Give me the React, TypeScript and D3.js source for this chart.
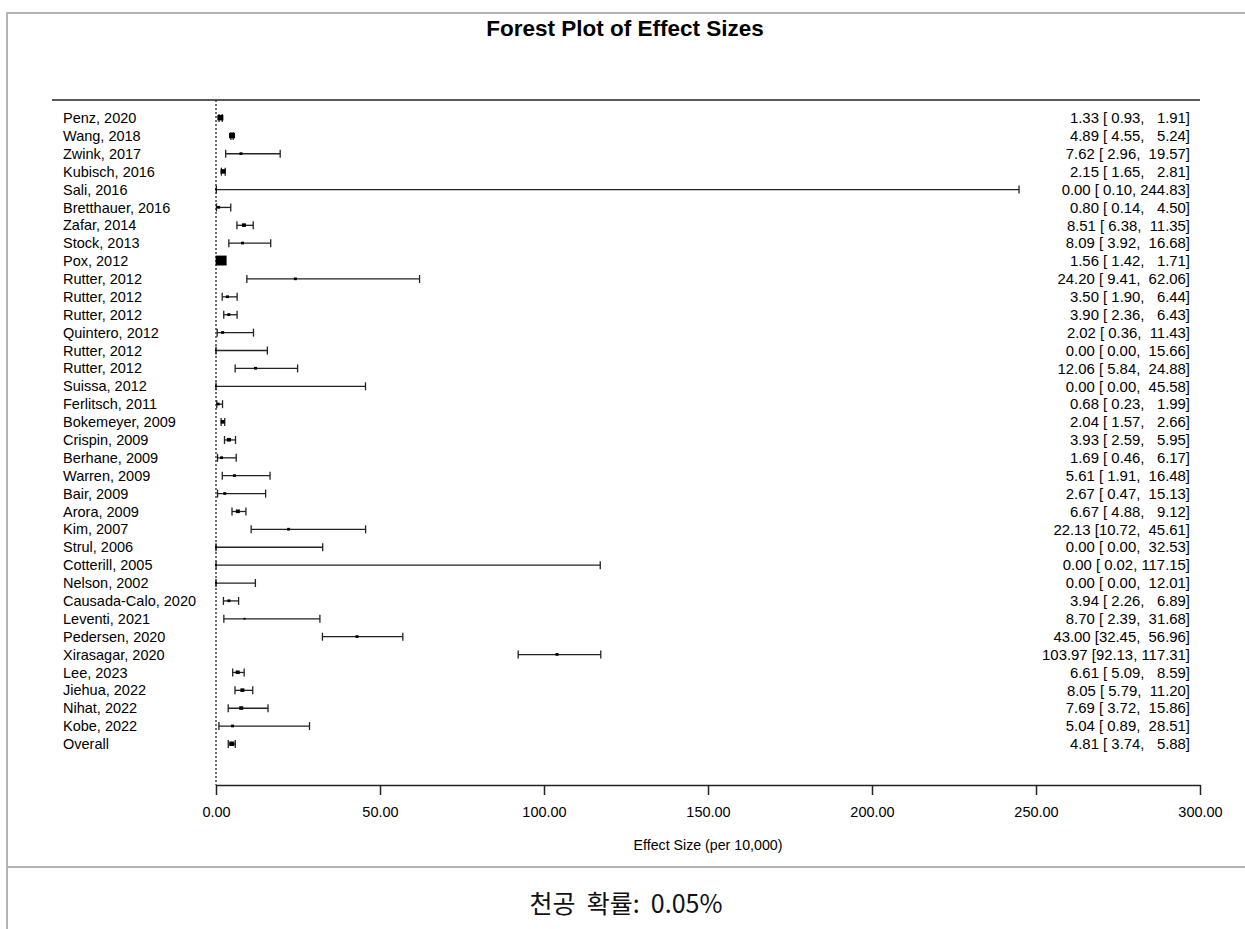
import { useEffect, useRef } from 'react';
import * as d3 from 'd3';

// study data
const studies = [
	'Penz, 2020', 'Wang, 2018', 'Zwink, 2017', 'Kubisch, 2016', 'Sali, 2016', 'Bretthauer, 2016',
	'Zafar, 2014', 'Stock, 2013', 'Pox, 2012', 'Rutter, 2012', 'Rutter, 2012', 'Rutter, 2012',
	'Quintero, 2012', 'Rutter, 2012', 'Rutter, 2012', 'Suissa, 2012', 'Ferlitsch, 2011', 'Bokemeyer, 2009',
	'Crispin, 2009', 'Berhane, 2009', 'Warren, 2009', 'Bair, 2009', 'Arora, 2009', 'Kim, 2007',
	'Strul, 2006', 'Cotterill, 2005', 'Nelson, 2002', 'Causada-Calo, 2020', 'Leventi, 2021', 'Pedersen, 2020',
	'Xirasagar, 2020', 'Lee, 2023', 'Jiehua, 2022', 'Nihat, 2022', 'Kobe, 2022', 'Overall'
];
const estimates = [
	1.33, 4.89, 7.62, 2.15, 0.0, 0.8, 8.51, 8.09, 1.56, 24.2, 3.5, 3.9, 2.02, 0.0, 12.06, 0.0, 0.68, 2.04,
	3.93, 1.69, 5.61, 2.67, 6.67, 22.13, 0.0, 0.0, 0.0, 3.94, 8.7, 43.0, 103.97, 6.61, 8.05, 7.69, 5.04, 4.81
];
const lowers = [
	0.93, 4.55, 2.96, 1.65, 0.1, 0.14, 6.38, 3.92, 1.42, 9.41, 1.9, 2.36, 0.36, 0.0, 5.84, 0.0, 0.23, 1.57,
	2.59, 0.46, 1.91, 0.47, 4.88, 10.72, 0.0, 0.02, 0.0, 2.26, 2.39, 32.45, 92.13, 5.09, 5.79, 3.72, 0.89, 3.74
];
const uppers = [
	1.91, 5.24, 19.57, 2.81, 244.83, 4.5, 11.35, 16.68, 1.71, 62.06, 6.44, 6.43, 11.43, 15.66, 24.88, 45.58, 1.99, 2.66,
	5.95, 6.17, 16.48, 15.13, 9.12, 45.61, 32.53, 117.15, 12.01, 6.89, 31.68, 56.96, 117.31, 8.59, 11.2, 15.86, 28.51, 5.88
];
// relative weight of each study (marker size in the plot)
const weights = [
	6, 6, 3, 5, 2, 3, 4, 3, 11, 3, 3, 3, 3, 2, 3, 2, 3, 4,
	4, 3, 3, 3, 4, 3, 2, 2, 2, 3, 2, 3, 3, 4, 4, 4, 3, 5
];
const xTicks = [0, 50, 100, 150, 200, 250, 300];

const title = 'Forest Plot of Effect Sizes';
const xTitle = 'Effect Size (per 10,000)';
const caption = '천공 확률: 0.05%';

export default function App() {
	const svgRef = useRef<SVGSVGElement | null>(null);

	useEffect(() => {
		const svg = d3.select(svgRef.current);
		svg.selectAll('*').remove();

		const width = 1245;
		const height = 929;
		const font = 'Arial, "Liberation Sans", sans-serif';
		const dark = '#222';

		// outer frame (table borders)
		const frame = svg.append('g').attr('stroke', '#b3b3b3').attr('stroke-width', 2);
		frame.append('line').attr('x1', 7).attr('x2', width).attr('y1', 13).attr('y2', 13);
		frame.append('line').attr('x1', 7).attr('x2', 7).attr('y1', 12).attr('y2', height);
		frame.append('line').attr('x1', 7).attr('x2', width).attr('y1', 867).attr('y2', 867);

		const x = d3.scaleLinear().domain([0, 300]).range([216, 1200]);
		const y = d3.scalePoint<number>().domain(d3.range(studies.length)).range([118, 744]);

		const top = 100;
		const axisY = 785;

		svg.append('text')
			.attr('x', 625).attr('y', 36)
			.attr('text-anchor', 'middle')
			.attr('font-family', font).attr('font-weight', 'bold').attr('font-size', 22.5)
			.attr('fill', '#000')
			.text(title);

		// top rule
		svg.append('line')
			.attr('x1', 52).attr('x2', 1200).attr('y1', top).attr('y2', top)
			.attr('stroke', dark).attr('stroke-width', 1.5);

		// reference line at zero
		svg.append('line')
			.attr('x1', x(0)).attr('x2', x(0)).attr('y1', top).attr('y2', axisY)
			.attr('stroke', dark).attr('stroke-width', 1.3).attr('stroke-dasharray', '2,2');

		// x axis
		const axis = svg.append('g')
			.attr('transform', `translate(0,${axisY})`)
			.call(d3.axisBottom(x).tickValues(xTicks).tickFormat((d) => (d as number).toFixed(2)).tickSize(10).tickSizeOuter(0).tickPadding(12));
		axis.select('.domain').attr('stroke', dark).attr('stroke-width', 1.5);
		axis.selectAll('.tick line').attr('stroke', dark).attr('stroke-width', 1.5);
		axis.selectAll('.tick text').attr('font-family', font).attr('font-size', 14.5).attr('fill', '#000');

		svg.append('text')
			.attr('x', 708).attr('y', 850)
			.attr('text-anchor', 'middle')
			.attr('font-family', font).attr('font-size', 14.2)
			.attr('fill', '#000')
			.text(xTitle);

		const rows = svg.selectAll('.row').data(d3.range(studies.length)).join('g').attr('class', 'row');

		// study labels
		rows.append('text')
			.attr('x', 63).attr('y', (i) => y(i)!)
			.attr('dy', '0.35em')
			.attr('font-family', font).attr('font-size', 14.5)
			.attr('fill', '#000')
			.text((i) => studies[i]);

		// confidence intervals
		rows.append('line')
			.attr('x1', (i) => x(lowers[i])).attr('x2', (i) => x(uppers[i]))
			.attr('y1', (i) => y(i)!).attr('y2', (i) => y(i)!)
			.attr('stroke', dark).attr('stroke-width', 1.3);
		rows.append('line')
			.attr('x1', (i) => x(lowers[i])).attr('x2', (i) => x(lowers[i]))
			.attr('y1', (i) => y(i)! - 4).attr('y2', (i) => y(i)! + 4)
			.attr('stroke', dark).attr('stroke-width', 1.3);
		rows.append('line')
			.attr('x1', (i) => x(uppers[i])).attr('x2', (i) => x(uppers[i]))
			.attr('y1', (i) => y(i)! - 4).attr('y2', (i) => y(i)! + 4)
			.attr('stroke', dark).attr('stroke-width', 1.3);

		// point estimates
		rows.append('rect')
			.attr('x', (i) => x(estimates[i]) - weights[i] / 2)
			.attr('y', (i) => y(i)! - weights[i] / 2)
			.attr('width', (i) => weights[i])
			.attr('height', (i) => weights[i] * 0.9)
			.attr('fill', '#000');

		// estimate text column
		rows.append('text')
			.attr('x', 1190).attr('y', (i) => y(i)!)
			.attr('dy', '0.35em')
			.attr('text-anchor', 'end')
			.attr('font-family', font).attr('font-size', 14.9)
			.attr('fill', '#000')
			.style('white-space', 'pre')
			.text((i) => `${estimates[i].toFixed(2)} [${lowers[i].toFixed(2).padStart(5, ' ')}, ${uppers[i].toFixed(2).padStart(6, ' ')}]`);

		svg.append('text')
			.attr('x', 626).attr('y', 913)
			.attr('text-anchor', 'middle')
			.attr('font-family', '"Noto Sans CJK KR", "Noto Sans", sans-serif').attr('font-size', 25)
			.attr('fill', '#111')
			.style('white-space', 'pre')
			.text(caption.replace(' ', '  ').replace(': ', ':  '));

		return () => {
			svg.selectAll('*').remove();
		};
	}, []);

	return (
		<div style={{ position: 'absolute', left: 0, top: 0, width: 1245, height: 929, background: '#fff' }}>
			<svg ref={svgRef} width={1245} height={929} style={{ display: 'block' }} />
		</div>
	);
}
